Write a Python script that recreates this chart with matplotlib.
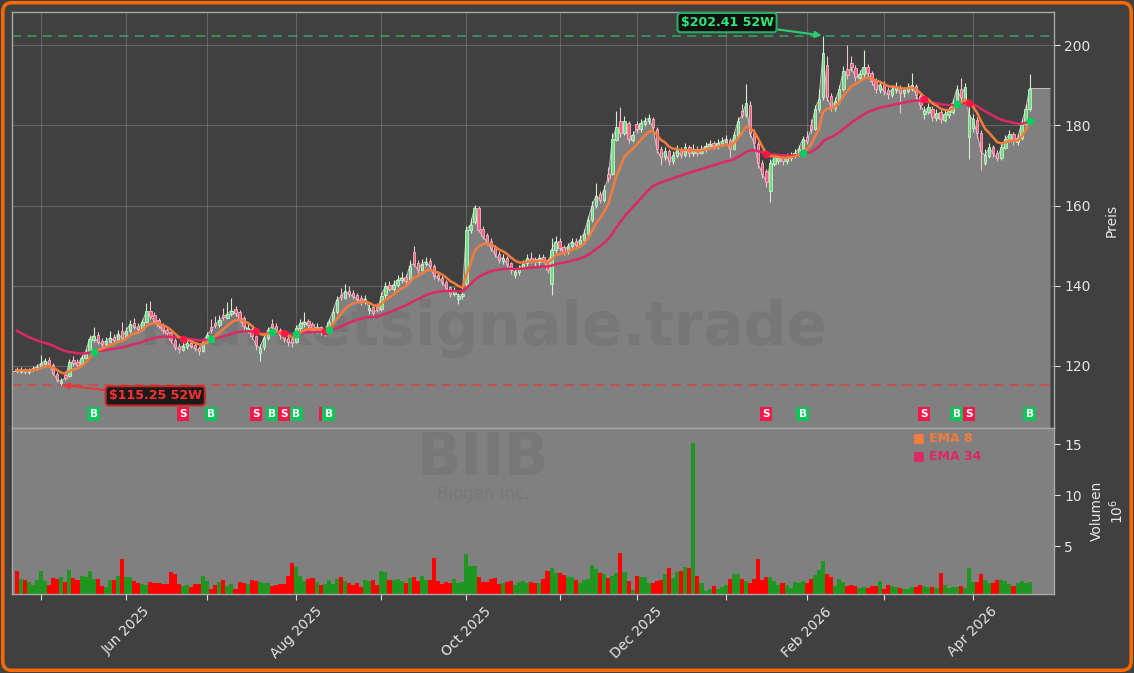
import numpy as np
import pandas as pd
import matplotlib
matplotlib.use("Agg")
import matplotlib.pyplot as plt
from matplotlib.patches import FancyBboxPatch

# ---------------- data ----------------
start_date = "2025-04-23"
end_date = "2026-04-22"
market_holidays = ["2025-05-26", "2025-06-19", "2025-07-04", "2025-09-01", "2025-11-27",
                   "2025-12-25", "2026-01-01", "2026-01-19", "2026-02-16", "2026-04-03"]

close = [
    118.6, 119.0, 118.5, 118.9, 119.3, 119.8, 120.6, 121.3, 120.4, 118.2,
    116.6, 116.2, 117.0, 121.0, 120.6, 120.2, 122.0, 123.5, 126.8, 127.5,
    126.0, 125.5, 126.2, 127.0, 126.4, 128.0, 127.0, 128.8, 130.4, 129.8,
    129.2, 131.0, 133.6, 132.4, 131.2, 130.0, 129.0, 128.2, 126.5, 124.8,
    124.2, 125.0, 125.6, 125.0, 124.4, 123.8, 126.0, 127.8, 129.0, 130.2,
    131.5, 132.2, 133.0, 133.8, 133.2, 131.8, 130.0, 129.4, 127.5, 125.2,
    124.5, 127.0, 129.0, 129.8, 129.0, 127.6, 126.8, 126.0, 125.8, 129.4,
    130.6, 131.0, 130.2, 129.0, 129.6, 128.4, 128.8, 131.0, 133.5, 136.5,
    137.2, 138.6, 138.0, 137.4, 136.8, 136.0, 136.8, 134.5, 133.2, 134.0,
    137.5, 140.0, 139.2, 140.3, 141.5, 142.0, 141.2, 145.0, 145.5, 144.0,
    145.5, 146.0, 144.8, 142.5, 142.0, 141.0, 139.5, 138.0, 138.8, 137.5,
    138.0, 154.0, 155.2, 159.5, 154.0, 152.5, 151.0, 149.5, 148.0, 146.5,
    147.0, 145.5, 144.0, 143.5, 144.3, 145.5, 146.8, 146.2, 145.8, 147.0,
    146.5, 144.0, 149.0, 151.0, 149.5, 148.5, 149.8, 151.0, 150.2, 151.5,
    153.0, 156.5, 160.0, 162.5, 161.5, 164.0, 167.0, 176.5, 179.5, 178.0,
    181.0, 176.5, 177.5, 179.0, 180.5, 181.2, 181.8, 179.5, 174.0, 172.0,
    173.5, 171.0, 172.5, 173.8, 172.5, 174.5, 173.0, 174.0, 173.2, 174.0,
    174.8, 175.4, 174.8, 175.5, 176.0, 176.5, 174.0, 177.5, 181.0, 182.5,
    185.5, 178.0, 175.5, 170.5, 168.0, 166.0, 170.5, 172.0, 171.8, 171.0,
    172.0, 172.5, 173.0, 174.2, 176.5, 176.0, 179.0, 184.0, 186.5, 198.0,
    187.0, 184.5, 186.0, 189.0, 193.5, 192.5, 194.5, 192.0, 192.8, 194.5,
    193.0, 191.0, 189.0, 190.2, 188.5, 187.8, 189.0, 189.6, 188.2, 188.8,
    189.5, 190.0, 187.5, 185.0, 183.5, 184.5, 182.0, 183.0, 181.5, 182.8,
    183.5, 185.5, 189.0, 187.0, 189.5, 182.5, 181.5, 178.0, 173.5, 172.5,
    174.5, 173.0, 171.8, 174.5, 176.5, 177.8, 176.0, 176.8, 180.5, 184.0, 189.2,
]
open_ = [
    119.2, 118.5, 119.1, 118.4, 118.9, 119.2, 119.8, 120.5, 121.5, 120.2,
    118.0, 115.7, 117.8, 117.5, 121.4, 121.0, 120.4, 122.0, 123.6, 126.5,
    127.6, 126.2, 125.4, 126.0, 127.2, 126.5, 128.6, 127.0, 128.8, 130.6,
    130.0, 129.3, 131.0, 133.8, 132.6, 131.4, 130.2, 129.0, 128.4, 126.4,
    125.0, 124.0, 124.8, 125.8, 125.2, 124.5, 123.8, 126.0, 129.6, 130.8,
    130.2, 132.8, 132.0, 133.0, 134.2, 133.4, 132.0, 128.8, 129.2, 127.4,
    123.2, 124.6, 127.0, 130.4, 130.0, 129.0, 127.8, 127.0, 126.6, 126.0,
    129.4, 130.4, 131.2, 130.4, 128.8, 129.6, 128.2, 128.8, 131.0, 133.5,
    137.8, 137.0, 138.8, 138.2, 137.6, 137.0, 136.0, 134.0, 134.6, 134.8,
    134.2, 137.6, 140.2, 139.2, 140.2, 141.4, 142.2, 141.4, 148.4, 145.6,
    144.0, 145.4, 146.2, 144.8, 142.8, 142.0, 141.0, 139.6, 138.0, 136.6,
    137.4, 140.5, 154.0, 156.0, 159.5, 154.2, 152.6, 151.2, 149.6, 148.0,
    146.2, 147.0, 145.6, 142.6, 143.4, 144.4, 145.6, 147.0, 146.6, 145.8,
    147.2, 146.4, 140.5, 149.0, 151.2, 149.6, 148.4, 149.8, 151.2, 150.2,
    151.4, 153.0, 156.4, 160.0, 162.8, 161.4, 168.0, 168.0, 176.4, 181.0,
    178.2, 180.6, 176.4, 180.4, 179.0, 180.4, 181.0, 181.6, 179.0, 174.2,
    172.0, 173.6, 171.0, 172.4, 174.0, 172.6, 174.6, 173.0, 174.2, 173.2,
    174.0, 174.8, 175.6, 174.8, 175.4, 175.8, 176.4, 174.2, 177.4, 183.6,
    182.6, 185.2, 178.2, 175.4, 170.6, 168.6, 163.6, 170.4, 171.0, 172.0,
    171.0, 171.8, 172.4, 173.0, 174.2, 177.0, 180.0, 179.2, 184.0, 187.0,
    195.0, 187.4, 184.4, 186.0, 189.2, 194.2, 195.6, 194.4, 191.8, 192.8,
    194.6, 193.0, 191.2, 188.8, 190.4, 188.8, 187.6, 188.8, 189.6, 188.0,
    188.6, 189.2, 189.8, 187.4, 182.8, 183.4, 184.2, 181.8, 183.4, 181.4,
    182.6, 183.4, 185.4, 189.2, 186.8, 177.0, 179.4, 181.4, 178.2, 170.6,
    172.4, 174.6, 173.2, 171.8, 174.4, 176.4, 177.8, 175.8, 176.8, 180.4, 184.0,
]
high = [
    119.8, 119.6, 119.5, 119.4, 119.9, 120.4, 122.8, 122.0, 122.3, 120.6,
    118.5, 117.0, 118.6, 121.8, 122.5, 121.8, 122.8, 124.3, 127.6, 129.6,
    128.4, 127.0, 127.3, 128.8, 128.0, 129.0, 131.0, 129.6, 131.4, 132.0,
    130.8, 131.8, 135.6, 136.2, 133.4, 132.0, 130.8, 129.8, 128.9, 127.0,
    125.8, 125.9, 126.5, 126.6, 125.8, 125.0, 126.8, 128.5, 131.6, 132.4,
    132.6, 134.5, 136.0, 137.0, 135.0, 134.0, 132.5, 130.4, 129.8, 127.8,
    125.4, 127.6, 129.8, 131.8, 130.6, 129.5, 128.4, 127.6, 127.4, 130.2,
    131.6, 133.4, 131.8, 131.0, 130.6, 130.0, 129.6, 131.6, 134.4, 137.4,
    139.5, 140.4, 140.0, 139.0, 138.2, 137.6, 137.8, 135.4, 135.0, 135.6,
    138.4, 141.0, 141.2, 141.5, 142.6, 143.4, 143.0, 146.4, 150.0, 146.4,
    146.6, 147.2, 146.8, 145.4, 143.6, 142.6, 141.4, 140.0, 139.6, 138.2,
    139.0, 155.0, 156.8, 160.2, 160.0, 155.0, 153.2, 151.8, 150.2, 148.6,
    148.0, 147.4, 146.0, 144.4, 145.2, 146.4, 147.8, 148.4, 147.2, 147.8,
    148.0, 147.0, 152.0, 152.4, 151.8, 150.2, 150.6, 152.0, 151.8, 152.6,
    154.2, 157.4, 161.2, 165.6, 163.6, 165.2, 169.6, 178.0, 183.6, 184.6,
    182.4, 181.2, 178.6, 181.2, 181.6, 182.2, 182.8, 182.2, 179.6, 174.8,
    174.6, 174.2, 173.6, 175.0, 174.6, 175.6, 175.2, 175.4, 174.8, 175.0,
    175.8, 176.4, 176.2, 176.6, 177.2, 177.6, 176.8, 178.4, 182.2, 185.4,
    190.4, 186.0, 179.0, 176.0, 171.4, 169.2, 171.6, 173.0, 172.8, 172.6,
    173.0, 173.4, 174.0, 175.2, 177.4, 178.6, 181.6, 185.2, 189.0, 202.41,
    197.4, 188.2, 187.2, 190.2, 194.8, 200.0, 197.2, 195.0, 193.8, 198.8,
    195.4, 193.6, 191.8, 191.2, 191.0, 189.6, 190.2, 190.8, 190.2, 189.6,
    190.6, 193.0, 190.4, 188.0, 184.8, 185.6, 184.8, 184.0, 184.0, 183.8,
    184.6, 186.6, 190.2, 191.8, 190.6, 186.0, 182.8, 182.0, 178.8, 174.0,
    175.6, 175.2, 173.8, 175.6, 177.6, 178.8, 178.4, 177.8, 181.6, 185.4, 192.8,
]
low = [
    118.2, 118.2, 118.0, 118.0, 118.6, 118.9, 119.5, 120.0, 119.8, 117.8,
    116.0, 115.25, 116.5, 117.2, 120.0, 119.6, 120.0, 121.6, 123.2, 126.0,
    125.4, 124.8, 124.9, 125.6, 125.8, 126.0, 126.4, 126.6, 128.2, 129.2,
    128.6, 128.9, 130.6, 131.8, 130.6, 129.4, 128.3, 127.5, 125.8, 124.0,
    123.2, 123.6, 124.3, 124.5, 123.6, 122.8, 123.4, 125.6, 128.2, 129.4,
    129.6, 131.4, 131.6, 132.4, 132.4, 131.0, 129.2, 128.2, 126.6, 124.0,
    121.3, 124.0, 126.5, 129.0, 128.2, 126.8, 126.0, 125.0, 124.6, 125.6,
    128.8, 129.8, 129.5, 128.2, 128.2, 127.6, 127.4, 128.4, 130.6, 133.0,
    136.4, 136.6, 137.3, 136.6, 136.0, 135.2, 135.4, 133.0, 132.0, 133.4,
    133.8, 137.0, 138.6, 138.8, 139.8, 140.8, 140.4, 141.0, 145.0, 143.2,
    143.4, 144.8, 144.0, 141.6, 141.2, 140.2, 138.6, 137.2, 137.4, 135.5,
    136.8, 140.0, 153.2, 155.4, 153.4, 151.6, 150.2, 148.6, 147.2, 145.6,
    145.4, 144.6, 143.0, 142.0, 142.8, 143.8, 145.0, 145.6, 145.0, 145.2,
    145.8, 143.2, 137.8, 148.2, 148.6, 147.6, 147.8, 149.2, 149.4, 149.6,
    150.8, 152.6, 156.0, 159.4, 160.6, 161.0, 165.8, 167.6, 176.0, 177.2,
    177.6, 175.6, 175.8, 178.2, 178.4, 179.8, 180.4, 178.6, 173.0, 170.2,
    171.4, 170.2, 170.4, 171.8, 171.8, 172.0, 172.2, 172.4, 172.4, 172.8,
    173.4, 174.2, 174.0, 174.2, 174.8, 175.0, 172.0, 173.8, 177.0, 181.8,
    182.0, 177.2, 174.4, 169.4, 166.8, 164.6, 160.8, 169.8, 170.4, 170.2,
    170.4, 171.2, 171.8, 172.4, 173.8, 175.4, 178.2, 178.8, 183.4, 186.4,
    186.2, 183.6, 183.6, 185.4, 188.6, 191.6, 193.6, 191.0, 191.0, 192.2,
    192.0, 190.0, 188.0, 188.2, 187.6, 186.6, 187.0, 188.2, 183.0, 187.2,
    188.0, 188.6, 186.6, 184.0, 181.6, 182.8, 181.0, 181.2, 180.6, 180.8,
    181.8, 182.8, 185.0, 186.2, 186.2, 171.7, 178.4, 176.8, 168.8, 170.0,
    171.8, 172.0, 171.0, 171.4, 174.0, 175.8, 175.2, 175.2, 176.4, 179.8, 183.6,
]
volume_m = [
    2.55, 1.77, 1.67, 1.48, 1.18, 1.67, 2.55, 1.57, 1.18, 1.87,
    1.77, 1.97, 1.48, 2.65, 1.87, 1.67, 2.06, 1.97, 2.55, 1.77,
    1.77, 1.08, 1.02, 1.67, 1.67, 2.06, 3.73, 1.97, 1.97, 1.57,
    1.38, 1.28, 1.18, 1.48, 1.38, 1.38, 1.28, 1.28, 2.46, 2.26,
    1.28, 1.08, 1.18, 0.99, 1.28, 1.28, 2.06, 1.57, 0.79, 1.18,
    1.48, 1.67, 1.08, 1.28, 0.79, 1.48, 1.38, 1.28, 1.67, 1.57,
    1.48, 1.38, 1.38, 1.08, 1.18, 1.28, 1.28, 2.06, 3.34, 2.95,
    2.06, 1.57, 1.77, 1.87, 1.48, 1.18, 1.28, 1.67, 1.28, 1.77,
    1.97, 1.57, 1.38, 1.18, 1.38, 0.99, 1.67, 1.57, 1.67, 1.18,
    2.55, 2.46, 1.67, 1.67, 1.77, 1.57, 1.38, 1.87, 1.97, 1.57,
    2.06, 1.67, 1.67, 3.83, 1.57, 1.28, 1.48, 1.38, 1.77, 1.38,
    1.48, 4.22, 3.05, 3.05, 1.97, 1.48, 1.48, 1.77, 1.87, 1.28,
    1.38, 1.48, 1.57, 1.18, 1.48, 1.57, 1.38, 1.48, 1.38, 1.38,
    1.77, 2.55, 2.85, 2.36, 2.36, 2.16, 1.97, 1.97, 1.67, 1.38,
    1.67, 1.77, 3.14, 2.75, 2.36, 2.26, 1.87, 2.06, 2.36, 4.32,
    2.46, 1.57, 0.69, 2.06, 1.97, 1.97, 1.38, 1.38, 1.57, 1.67,
    2.26, 2.85, 1.87, 2.46, 2.55, 2.95, 2.85, 15.1, 2.06, 1.38,
    0.59, 0.79, 1.08, 0.79, 0.99, 1.18, 1.77, 2.26, 2.26, 1.77,
    1.57, 1.38, 1.77, 3.73, 1.67, 1.97, 1.97, 1.57, 1.18, 1.38,
    1.18, 0.89, 1.48, 1.38, 1.57, 1.38, 1.77, 2.16, 2.65, 3.54,
    2.26, 1.97, 1.08, 1.77, 1.48, 1.08, 1.18, 1.08, 0.89, 0.99,
    0.89, 1.08, 1.08, 1.57, 0.79, 1.18, 1.08, 0.99, 0.89, 0.79,
    0.79, 0.99, 0.99, 1.18, 1.08, 0.99, 0.99, 0.89, 2.36, 1.18,
    0.89, 0.99, 0.99, 1.08, 0.89, 2.85, 1.48, 1.48, 2.26, 1.67,
    1.38, 1.38, 1.67, 1.67, 1.57, 1.28, 1.08, 1.38, 1.57, 1.38, 1.48,
]
# EMA values at the first visible session (warm-up happened before the window)
ema8_start = 118.9
ema34_start = 128.8
buy_idx = [19, 48, 63, 69, 77, 194, 232, 250]
sell_idx = [41, 59, 66, 76, 185, 224, 235]
ticker = "BIIB"
company = "Biogen Inc."
watermark = "marketsignale.trade"

# ---------------- style ----------------
BG = "#404040"
FILL = "#808080"
UP_BODY, UP_EDGE, UP_WICK = "#6fe07f", "#d8f8d8", "#d0f0d0"
DN_BODY, DN_EDGE, DN_WICK = "#ff5a82", "#ffc4d0", "#f2c0cc"
EMA8_C, EMA34_C = "#f57c3c", "#dc2864"
BUY_C, SELL_C = "#12c25a", "#f0194a"
TXT = "#e6e6e6"

o = np.array(open_)
h = np.array(high)
l = np.array(low)
c = np.array(close)
v = np.array(volume_m)
n = len(c)
x = np.arange(n)
dates = pd.bdate_range(start_date, end_date, freq="C", holidays=market_holidays)

ema8 = pd.Series([ema8_start] + close[1:]).ewm(span=8, adjust=False).mean().values
ema34 = pd.Series([ema34_start] + close[1:]).ewm(span=34, adjust=False).mean().values

fig = plt.figure(figsize=(11.34, 6.73), dpi=100, facecolor=BG)
ax = fig.add_axes([12 / 1134, 1 - 428 / 673, 1042 / 1134, 416 / 673], facecolor=BG)
axv = fig.add_axes([12 / 1134, 1 - 594 / 673, 1042 / 1134, 166 / 673], facecolor=FILL, sharex=ax)

x_min, x_max = -1.16, 256.0
y_min, y_max = 104.5, 208.3
ax.set_xlim(x_min, x_max)
ax.set_ylim(y_min, y_max)

# area under close, from the left edge and carried flat a few sessions past the last bar
fill_x = np.r_[x_min, x, n + 4]
fill_y = np.r_[c[0], c, c[-1]]
ax.fill_between(fill_x, fill_y, y_min, color=FILL, zorder=1, linewidth=0)
ax.plot(fill_x, fill_y, color="#bdbdbd", lw=0.8, zorder=1.2)

ax.text(0.452, 0.24, watermark, transform=ax.transAxes, ha="center", va="center",
        fontsize=43, fontweight="bold", color="#404040", alpha=0.13, zorder=1.5)

# 52 week high / low
hi_i, lo_i = int(np.argmax(h)), int(np.argmin(l))
hi, lo = h[hi_i], l[lo_i]
ax.axhline(hi, color="#2ecc71", alpha=0.6, lw=1.3, ls=(0, (5, 3.5)), zorder=2)
ax.axhline(lo, color="#e53935", alpha=0.75, lw=1.3, ls=(0, (5, 3.5)), zorder=2)

# candles
up = c >= o
ax.vlines(x, l, h, colors=np.where(up, UP_WICK, DN_WICK), lw=0.8, zorder=3)
ax.bar(x, np.maximum(np.abs(c - o), 0.15), bottom=np.minimum(o, c), width=0.6,
       color=np.where(up, UP_BODY, DN_BODY), edgecolor=np.where(up, UP_EDGE, DN_EDGE),
       linewidth=0.5, zorder=4)

ax.plot(x, ema34, color=EMA34_C, lw=1.8, zorder=5)
ax.plot(x, ema8, color=EMA8_C, lw=1.8, zorder=5.1)

mid = (ema8 + ema34) / 2
ax.scatter(sell_idx, mid[sell_idx], s=30, color="#ff1744", zorder=6, linewidths=0)
ax.scatter(buy_idx, mid[buy_idx], s=30, color="#00d060", zorder=6, linewidths=0)

label_y = 108.0
for i in sell_idx:
    ax.text(i, label_y, "S", ha="center", va="center", color="white", fontsize=7.5,
            fontweight="bold", zorder=7,
            bbox=dict(boxstyle="square,pad=0.22", fc=SELL_C, ec="none"))
for i in buy_idx:
    ax.text(i, label_y, "B", ha="center", va="center", color="white", fontsize=7.5,
            fontweight="bold", zorder=7,
            bbox=dict(boxstyle="square,pad=0.22", fc=BUY_C, ec="none"))

ax.annotate(f"${hi:.2f} 52W", xy=(hi_i, hi), xytext=(-96, 13), textcoords="offset pixels",
            ha="center", va="center", color="#2ee87a", fontsize=9, fontweight="bold",
            bbox=dict(boxstyle="round,pad=0.25", fc="#101010", ec="#27ae60", lw=1.5),
            arrowprops=dict(arrowstyle="-|>", color="#2ecc71", lw=1.5, shrinkA=0, shrinkB=1),
            zorder=8)
ax.annotate(f"${lo:.2f} 52W", xy=(lo_i, lo), xytext=(94, -11), textcoords="offset pixels",
            ha="center", va="center", color="#ff3030", fontsize=9, fontweight="bold",
            bbox=dict(boxstyle="round,pad=0.25", fc="#1a1a1a", ec="#c62828", lw=1.5),
            arrowprops=dict(arrowstyle="-|>", color="#e53935", lw=1.5, shrinkA=0, shrinkB=1),
            zorder=8)

# volume
axv.bar(x, v, width=1.0, color=np.where(up, "#1f961f", "#ff0000"), linewidth=0, zorder=2)
axv.set_ylim(v.min() * 0.5, v.max() * 1.1)
axv.set_yticks([5, 10, 15])
axv.text(0.452, 0.815, ticker, transform=axv.transAxes, ha="center", va="center",
         fontsize=42, fontweight="bold", color="#404040", alpha=0.12, zorder=1)
axv.text(0.452, 0.6, company, transform=axv.transAxes, ha="center", va="center",
         fontsize=12, color="#404040", alpha=0.12, zorder=1)
axv.text(0.865, 0.94, "■ EMA 8", transform=axv.transAxes, ha="left", va="center",
         fontsize=9, fontweight="bold", color=EMA8_C, zorder=3)
axv.text(0.865, 0.837, "■ EMA 34", transform=axv.transAxes, ha="left", va="center",
         fontsize=9, fontweight="bold", color=EMA34_C, zorder=3)

# x ticks at every month start, label every second month
month_start = np.flatnonzero(dates.month[1:] != dates.month[:-1]) + 1
axv.set_xticks(month_start)
axv.set_xticklabels([f"{dates[i]:%b %Y}" if dates[i].month % 2 == 0 else "" for i in month_start],
                    rotation=45)

ax.set_yticks([120, 140, 160, 180, 200])
ax.grid(True, color="white", alpha=0.18, lw=0.8)
ax.set_axisbelow(True)
ax.tick_params(axis="x", which="both", bottom=False, labelbottom=False)

for a in (ax, axv):
    a.yaxis.tick_right()
    a.yaxis.set_label_position("right")
    a.tick_params(axis="both", colors="#dddddd", labelcolor=TXT, labelsize=10, length=4)
    for s in a.spines.values():
        s.set_color("#a8a8a8")
        s.set_linewidth(1.0)

ax.set_ylabel("Preis", color=TXT, fontsize=10, labelpad=10)
axv.set_ylabel("Volumen\n$10^6$", color=TXT, fontsize=10, labelpad=6)

fig.patches.append(FancyBboxPatch((0.0025, 0.004), 0.995, 0.992, transform=fig.transFigure,
                                  boxstyle="round,pad=0,rounding_size=0.008",
                                  mutation_aspect=1134 / 673, fc="none", ec="#ff6a00", lw=2.5))

fig.savefig("out.png", dpi=100, facecolor=BG)
